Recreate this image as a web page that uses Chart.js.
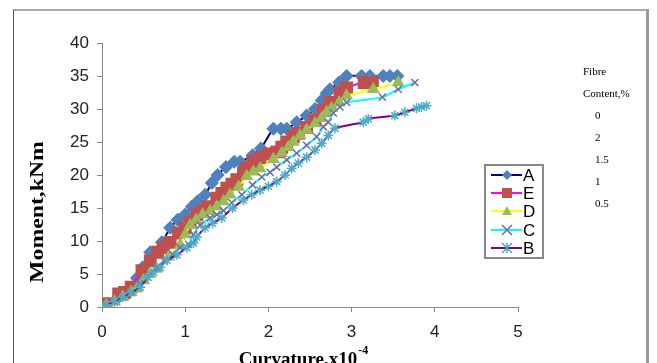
<!DOCTYPE html>
<html>
<head>
<meta charset="utf-8">
<script src="https://cdn.jsdelivr.net/npm/chart.js"></script>
<style>
  html, body { margin: 0; padding: 0; background: #fff; }
  #wrap { position: relative; width: 657px; height: 363px; overflow: hidden; }
  #frame {
    position: absolute; left: 13px; top: 9px; width: 636px; height: 400px;
    border-left: 1px solid #555; border-top: 2px solid #aaa; border-right: 3px solid #999;
    box-sizing: border-box;
  }
  canvas { position: absolute; left: 0; top: 0; }
</style>
</head>
<body>
<div id="wrap">
  <div id="frame"></div>
  <canvas id="chart" width="657" height="363"></canvas>
</div>
<script>
// values (curvature x10^-4, moment kNm)
var aX = [0.05, 0.2, 0.3, 0.42, 0.49, 0.58, 0.72, 0.82, 0.91, 1.0, 1.08, 1.15, 1.24, 1.32, 1.39, 1.49, 1.59, 1.66, 1.81, 1.91, 2.06, 2.15, 2.22, 2.34, 2.46, 2.56, 2.64, 2.70, 2.74, 2.85, 2.94, 3.12, 3.22, 3.38, 3.46, 3.55];
var aY = [0.5, 1.5, 2, 4.4, 6, 8.3, 9.8, 12, 13.2, 14, 15.2, 16, 17, 18.8, 20, 21.2, 22, 22, 23, 24, 27, 27, 27, 28, 29, 30, 31.3, 32.4, 33, 34, 35, 35, 35, 35, 35, 35];

var eX = [0.05, 0.2, 0.27, 0.35, 0.48, 0.58, 0.67, 0.74, 0.82, 0.92, 1.0, 1.06, 1.14, 1.2, 1.27, 1.38, 1.44, 1.5, 1.56, 1.62, 1.70, 1.74, 1.81, 1.9, 2.0, 2.1, 2.16, 2.22, 2.3, 2.36, 2.46, 2.56, 2.66, 2.74, 2.86, 2.94, 3.15, 3.25];
var eY = [0.5, 2, 2.2, 3, 5.5, 7, 8.3, 9, 9.8, 11.2, 12, 12.8, 14, 14.5, 15.2, 16.5, 17.2, 18, 18.6, 19.3, 20.3, 21, 22, 22.6, 23.2, 23.5, 24.2, 25, 25.8, 26.3, 27.2, 28.3, 29.8, 31, 32.4, 33.2, 34, 34];

var dX = [0.05, 0.15, 0.25, 0.35, 0.42, 0.5, 0.58, 0.66, 0.8, 0.94, 1.0, 1.06, 1.13, 1.21, 1.3, 1.38, 1.46, 1.54, 1.64, 1.74, 1.82, 1.9, 2.06, 2.16, 2.24, 2.3, 2.38, 2.46, 2.56, 2.64, 2.7, 2.76, 2.85, 2.94, 3.26, 3.56];
var dY = [0.3, 0.8, 1.5, 2.2, 2.8, 4, 5, 5.8, 7.6, 9.4, 11, 12.4, 13.2, 14, 14.5, 15.2, 16, 17, 18.2, 19.8, 20.5, 21, 22.4, 23.3, 24.2, 25, 26, 26.8, 27.8, 28.6, 29.5, 30.1, 31, 32, 33, 34];

var cX = [0.05, 0.15, 0.25, 0.35, 0.45, 0.55, 0.66, 0.75, 0.85, 0.94, 1.04, 1.1, 1.18, 1.3, 1.38, 1.46, 1.56, 1.68, 1.81, 1.92, 2.02, 2.1, 2.22, 2.34, 2.46, 2.58, 2.66, 2.72, 2.78, 2.86, 2.94, 3.37, 3.56, 3.76];
var cY = [0.3, 0.8, 1.5, 2.2, 3.5, 4.5, 6, 7, 8, 9, 9.5, 11, 12.4, 13.5, 14, 14.6, 15.8, 17, 18.5, 19.7, 20.4, 21.2, 22.3, 23.3, 24.5, 25.8, 27.3, 28, 29.4, 30.3, 31, 31.8, 33, 34];

var bX = [0.05, 0.15, 0.25, 0.35, 0.46, 0.55, 0.62, 0.7, 0.78, 0.9, 1.02, 1.1, 1.14, 1.24, 1.33, 1.44, 1.57, 1.7, 1.8, 1.9, 2.0, 2.1, 2.2, 2.28, 2.36, 2.46, 2.56, 2.64, 2.72, 2.8, 3.14, 3.2, 3.52, 3.64, 3.78, 3.84, 3.9];
var bY = [0.3, 0.8, 1.5, 2.2, 3, 4.5, 5.3, 6, 7.1, 7.9, 9, 9.7, 10.6, 12, 12.7, 13.5, 15, 16.2, 17, 17.7, 18.3, 19, 20, 21, 21.8, 22.7, 23.8, 24.8, 26, 27.1, 28, 28.5, 29, 29.5, 30.1, 30.3, 30.5];

var seriesNames = ['A', 'E', 'D', 'C', 'B'];
var fibreLabels = ['0', '2', '1.5', '1', '0.5'];
var xTicks = [0, 1, 2, 3, 4, 5];
var yTicks = [0, 5, 10, 15, 20, 25, 30, 35, 40];

function pts(xs, ys) {
  var out = [];
  for (var i = 0; i < xs.length; i++) out.push({x: xs[i], y: ys[i]});
  return out;
}

var styles = [
  {line: '#000080', mark: '#4F81BD', shape: 'rectRot', r: 6},
  {line: '#FF00FF', mark: '#C0504D', shape: 'rect', r: 8},
  {line: '#FFFF00', mark: '#9BBB59', shape: 'triangle', r: 6},
  {line: '#00FFFF', mark: '#8064A2', shape: 'crossRot', r: 5},
  {line: '#800080', mark: '#4BACC6', shape: 'star', r: 5}
];
var allX = [aX, eX, dX, cX, bX];
var allY = [aY, eY, dY, cY, bY];

var datasets = [];
for (var s = 0; s < 5; s++) {
  var st = styles[s];
  datasets.push({
    label: seriesNames[s],
    data: pts(allX[s], allY[s]),
    borderColor: st.line,
    borderWidth: 2,
    backgroundColor: st.mark,
    pointStyle: st.shape,
    pointRadius: st.r,
    pointBackgroundColor: st.mark,
    pointBorderColor: st.mark,
    pointBorderWidth: 1.5,
    tension: 0.2,
    order: 5 - s
  });
}

function marker(ctx, shape, x, y, r, color) {
  ctx.save();
  ctx.fillStyle = color;
  ctx.strokeStyle = color;
  ctx.lineWidth = 1.5;
  ctx.beginPath();
  if (shape == 'rectRot') {
    ctx.moveTo(x, y - r); ctx.lineTo(x + r, y); ctx.lineTo(x, y + r); ctx.lineTo(x - r, y); ctx.closePath(); ctx.fill();
  } else if (shape == 'rect') {
    ctx.rect(x - r, y - r, 2 * r, 2 * r); ctx.fill();
  } else if (shape == 'triangle') {
    ctx.moveTo(x, y - r); ctx.lineTo(x + r, y + r * 0.8); ctx.lineTo(x - r, y + r * 0.8); ctx.closePath(); ctx.fill();
  } else if (shape == 'crossRot') {
    ctx.moveTo(x - r, y - r); ctx.lineTo(x + r, y + r); ctx.moveTo(x + r, y - r); ctx.lineTo(x - r, y + r); ctx.stroke();
  } else {
    ctx.moveTo(x - r, y - r); ctx.lineTo(x + r, y + r); ctx.moveTo(x + r, y - r); ctx.lineTo(x - r, y + r);
    ctx.moveTo(x, y - r); ctx.lineTo(x, y + r); ctx.stroke();
  }
  ctx.restore();
}

var extras = {
  id: 'extras',
  afterDraw: function(chart) {
    var ctx = chart.ctx;
    // y title
    ctx.save();
    ctx.translate(38, 212);
    ctx.rotate(-Math.PI / 2);
    ctx.scale(1.25, 1);
    ctx.font = 'bold 19px "Liberation Serif"';
    ctx.textAlign = 'center';
    ctx.textBaseline = 'middle';
    ctx.fillStyle = '#000';
    ctx.fillText('Moment,kNm', 0, 0);
    ctx.restore();

    // x title with superscript
    ctx.save();
    ctx.fillStyle = '#000';
    ctx.textBaseline = 'alphabetic';
    ctx.font = 'bold 19px "Liberation Serif"';
    var main = 'Curvature,x10';
    var w1 = ctx.measureText(main).width;
    ctx.font = 'bold 12px "Liberation Serif"';
    var w2 = ctx.measureText('-4').width;
    var x0 = 303 - (w1 + w2) / 2;
    ctx.font = 'bold 19px "Liberation Serif"';
    ctx.fillText(main, x0, 365);
    ctx.font = 'bold 12px "Liberation Serif"';
    ctx.fillText('-4', x0 + w1 + 1, 354);
    ctx.restore();

    // legend box
    ctx.save();
    ctx.strokeStyle = '#888';
    ctx.lineWidth = 2;
    ctx.strokeRect(485, 165, 58, 93);
    var rows = [175, 193, 211, 230, 248];
    ctx.font = '17px "Liberation Sans"';
    ctx.textBaseline = 'middle';
    for (var i = 0; i < 5; i++) {
      var y = rows[i];
      ctx.strokeStyle = styles[i].line;
      ctx.lineWidth = 2;
      ctx.beginPath();
      ctx.moveTo(491, y); ctx.lineTo(522, y); ctx.stroke();
      marker(ctx, styles[i].shape, 507, y, 5, styles[i].mark);
      ctx.fillStyle = '#000';
      ctx.fillText(seriesNames[i], 523, y + 1);
    }
    ctx.restore();

    // fibre content notes
    ctx.save();
    ctx.fillStyle = '#000';
    ctx.font = '11px "Liberation Serif"';
    ctx.textBaseline = 'middle';
    ctx.fillText('Fibre', 583, 72);
    ctx.fillText('Content,%', 583, 94);
    var fy = [116, 138, 160, 182, 204];
    for (var k = 0; k < fibreLabels.length; k++) {
      ctx.fillText(fibreLabels[k], 595, fy[k]);
    }
    ctx.restore();
  }
};

var tickFont = {family: 'Liberation Sans', size: 17};

new Chart(document.getElementById('chart').getContext('2d'), {
  type: 'line',
  data: {datasets: datasets},
  plugins: [extras],
  options: {
    responsive: false,
    animation: false,
    layout: {padding: {left: 0, right: 139, top: 43, bottom: 0}},
    plugins: {legend: {display: false}, tooltip: {enabled: false}},
    scales: {
      x: {
        type: 'linear', min: 0, max: 5,
        afterBuildTicks: function(scale) { scale.ticks = xTicks.map(function(v) { return {value: v}; }); },
        ticks: {color: '#222', font: tickFont, padding: 10, maxRotation: 0},
        grid: {drawOnChartArea: false, drawTicks: true, tickLength: 5, color: '#888'},
        border: {color: '#888', width: 1},
        afterFit: function(scale) { scale.height = 56; }
      },
      y: {
        type: 'linear', min: 0, max: 40,
        afterBuildTicks: function(scale) { scale.ticks = yTicks.map(function(v) { return {value: v}; }); },
        ticks: {color: '#222', font: tickFont, padding: 8},
        grid: {drawOnChartArea: false, drawTicks: true, tickLength: 5, color: '#888'},
        border: {color: '#888', width: 1},
        afterFit: function(scale) { scale.width = 102; }
      }
    }
  }
});
</script>
</body>
</html>
